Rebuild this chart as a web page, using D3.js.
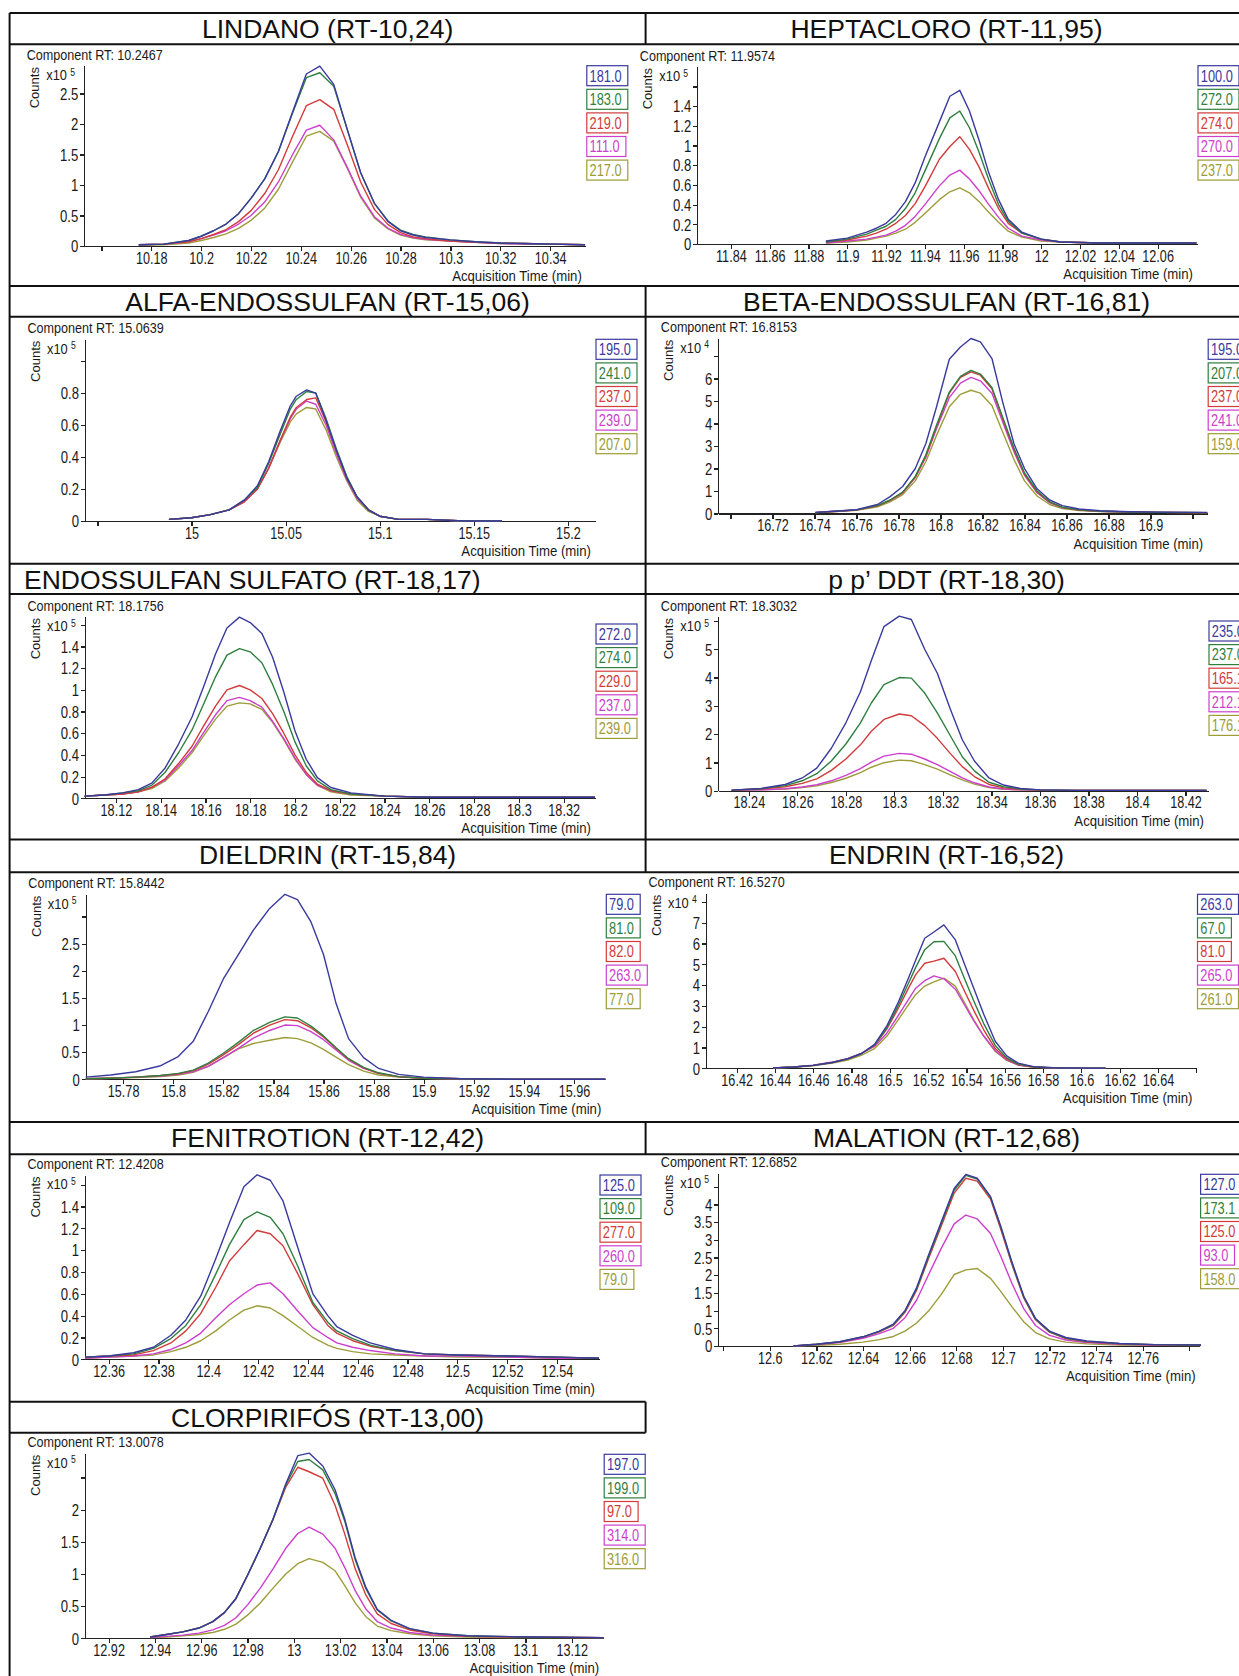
<!DOCTYPE html>
<html lang="pt">
<head>
<meta charset="utf-8">
<title>Cromatogramas</title>
<script src="https://cdn.jsdelivr.net/npm/d3@7"></script>
<style>
body { margin: 0; background: #fff; }
svg { display: block; font-family: "Liberation Sans", Arial, sans-serif; }
.rule { stroke: #111; stroke-width: 2; }
.axis path, .axis line { stroke: #222; stroke-width: 1.2; shape-rendering: crispEdges; }
.axis text { fill: #1a1a1a; }
.title { font-size: 26.5px; fill: #111; }
.trace { fill: none; stroke-width: 1.4; stroke-linejoin: round; }
</style>
</head>
<body>
<script>
// ---- chart data ----
var titles = ["LINDANO (RT-10,24)", "HEPTACLORO (RT-11,95)", "ALFA-ENDOSSULFAN (RT-15,06)",
  "BETA-ENDOSSULFAN (RT-16,81)", "ENDOSSULFAN SULFATO (RT-18,17)", "p p\u2019 DDT (RT-18,30)",
  "DIELDRIN (RT-15,84)", "ENDRIN (RT-16,52)", "FENITROTION (RT-12,42)", "MALATION (RT-12,68)",
  "CLORPIRIF\u00d3S (RT-13,00)"];
var componentRT = ["10.2467", "11.9574", "15.0639", "16.8153", "18.1756", "18.3032",
  "15.8442", "16.5270", "12.4208", "12.6852", "13.0078"];
var exponents = [5, 5, 5, 4, 5, 5, 5, 4, 5, 5, 5];
var ionLabels = [
  ["181.0", "183.0", "219.0", "111.0", "217.0"],
  ["100.0", "272.0", "274.0", "270.0", "237.0"],
  ["195.0", "241.0", "237.0", "239.0", "207.0"],
  ["195.0", "207.0", "237.0", "241.0", "159.0"],
  ["272.0", "274.0", "229.0", "237.0", "239.0"],
  ["235.0", "237.0", "165.1", "212.1", "176.1"],
  ["79.0", "81.0", "82.0", "263.0", "77.0"],
  ["263.0", "67.0", "81.0", "265.0", "261.0"],
  ["125.0", "109.0", "277.0", "260.0", "79.0"],
  ["127.0", "173.1", "125.0", "93.0", "158.0"],
  ["197.0", "199.0", "97.0", "314.0", "316.0"]
];
var xDomains = [[10.1531, 10.3543], [11.8227, 12.0803], [14.9434, 15.2144], [16.6942, 16.927],
  [18.1062, 18.334], [18.2274, 18.4293], [15.7651, 15.9725], [16.404, 16.6601],
  [12.3505, 12.5569], [12.5779, 12.7844], [12.9098, 13.1336]];
var yMax = [2.956, 1.80, 1.136, 7.79, 1.674, 6.15, 3.41, 8.41, 1.688, 4.88, 2.877];
var xTicks = [
  [10.16, 10.18, 10.2, 10.22, 10.24, 10.26, 10.28, 10.3, 10.32, 10.34],
  [11.84, 11.86, 11.88, 11.9, 11.92, 11.94, 11.96, 11.98, 12, 12.02, 12.04, 12.06],
  [14.95, 15, 15.05, 15.1, 15.15, 15.2],
  [16.7, 16.72, 16.74, 16.76, 16.78, 16.8, 16.82, 16.84, 16.86, 16.88, 16.9, 16.92],
  [18.12, 18.14, 18.16, 18.18, 18.2, 18.22, 18.24, 18.26, 18.28, 18.3, 18.32],
  [18.24, 18.26, 18.28, 18.3, 18.32, 18.34, 18.36, 18.38, 18.4, 18.42],
  [15.78, 15.8, 15.82, 15.84, 15.86, 15.88, 15.9, 15.92, 15.94, 15.96],
  [16.42, 16.44, 16.46, 16.48, 16.5, 16.52, 16.54, 16.56, 16.58, 16.6, 16.62, 16.64, 16.66],
  [12.36, 12.38, 12.4, 12.42, 12.44, 12.46, 12.48, 12.5, 12.52, 12.54],
  [12.58, 12.6, 12.62, 12.64, 12.66, 12.68, 12.7, 12.72, 12.74, 12.76, 12.78],
  [12.92, 12.94, 12.96, 12.98, 13, 13.02, 13.04, 13.06, 13.08, 13.1, 13.12]
];
var xUnlabeled = [[10.16], [], [14.95], [16.7, 16.92], [], [], [], [16.66], [], [12.58, 12.78], []];
var yTicks = [
  [0, 0.5, 1, 1.5, 2, 2.5],
  [0, 0.2, 0.4, 0.6, 0.8, 1, 1.2, 1.4, 1.6],
  [0, 0.2, 0.4, 0.6, 0.8, 1],
  [0, 1, 2, 3, 4, 5, 6, 7],
  [0, 0.2, 0.4, 0.6, 0.8, 1, 1.2, 1.4, 1.6],
  [0, 1, 2, 3, 4, 5, 6],
  [0, 0.5, 1, 1.5, 2, 2.5, 3],
  [0, 1, 2, 3, 4, 5, 6, 7, 8],
  [0, 0.2, 0.4, 0.6, 0.8, 1, 1.2, 1.4, 1.6],
  [0, 0.5, 1, 1.5, 2, 2.5, 3, 3.5, 4, 4.5],
  [0, 0.5, 1, 1.5, 2, 2.5]
];
var yUnlabeled = [[], [1.6], [1], [7], [1.6], [6], [3], [8], [1.6], [4.5], [2.5]];

// acquisition time (min) and counts (x10^n) per ion, in legend order
var lindanoTime = [10.175, 10.185, 10.195, 10.2, 10.205, 10.21, 10.215, 10.22, 10.2255, 10.231, 10.2367, 10.2422, 10.2476, 10.2532, 10.2587, 10.264, 10.2695, 10.275, 10.28, 10.285, 10.29, 10.3, 10.31, 10.32, 10.33, 10.34, 10.354];
var lindanoCounts = [
  [0.02, 0.03, 0.09, 0.16, 0.25, 0.36, 0.53, 0.78, 1.10, 1.55, 2.20, 2.82, 2.95, 2.65, 1.90, 1.20, 0.70, 0.40, 0.25, 0.18, 0.14, 0.10, 0.07, 0.05, 0.04, 0.03, 0.02],
  [0.02, 0.03, 0.09, 0.16, 0.25, 0.36, 0.53, 0.78, 1.10, 1.55, 2.18, 2.76, 2.84, 2.62, 1.90, 1.20, 0.70, 0.41, 0.26, 0.19, 0.15, 0.10, 0.07, 0.05, 0.04, 0.03, 0.02],
  [0.02, 0.03, 0.07, 0.12, 0.19, 0.27, 0.40, 0.58, 0.86, 1.25, 1.80, 2.30, 2.40, 2.24, 1.65, 1.05, 0.60, 0.35, 0.22, 0.15, 0.12, 0.08, 0.06, 0.05, 0.04, 0.03, 0.02],
  [0.02, 0.03, 0.07, 0.12, 0.18, 0.25, 0.36, 0.50, 0.72, 1.05, 1.50, 1.90, 1.98, 1.74, 1.28, 0.82, 0.48, 0.29, 0.19, 0.14, 0.11, 0.08, 0.06, 0.04, 0.03, 0.03, 0.02],
  [0.01, 0.02, 0.05, 0.09, 0.14, 0.20, 0.29, 0.42, 0.62, 0.93, 1.38, 1.80, 1.88, 1.72, 1.27, 0.80, 0.46, 0.28, 0.18, 0.13, 0.10, 0.08, 0.06, 0.04, 0.03, 0.03, 0.02]
];
var heptacloroTime = [11.889, 11.9, 11.91, 11.915, 11.92, 11.925, 11.93, 11.935, 11.94, 11.9475, 11.9529, 11.958, 11.963, 11.968, 11.973, 11.978, 11.983, 11.99, 12.0, 12.01, 12.03, 12.05, 12.08];
var heptacloroCounts = [
  [0.03, 0.06, 0.12, 0.16, 0.21, 0.30, 0.43, 0.62, 0.88, 1.24, 1.50, 1.56, 1.35, 1.05, 0.72, 0.45, 0.25, 0.12, 0.05, 0.02, 0.01, 0.01, 0.01],
  [0.02, 0.05, 0.10, 0.14, 0.18, 0.25, 0.36, 0.52, 0.74, 1.07, 1.28, 1.35, 1.18, 0.93, 0.65, 0.40, 0.23, 0.11, 0.05, 0.02, 0.01, 0.01, 0.01],
  [0.02, 0.04, 0.08, 0.11, 0.15, 0.21, 0.29, 0.41, 0.58, 0.86, 0.99, 1.09, 0.96, 0.78, 0.56, 0.36, 0.21, 0.11, 0.05, 0.02, 0.01, 0.01, 0.01],
  [0.01, 0.03, 0.05, 0.07, 0.09, 0.13, 0.19, 0.28, 0.40, 0.59, 0.70, 0.75, 0.66, 0.54, 0.40, 0.27, 0.16, 0.08, 0.04, 0.02, 0.01, 0.01, 0.01],
  [0.01, 0.02, 0.04, 0.06, 0.08, 0.11, 0.15, 0.22, 0.31, 0.45, 0.53, 0.57, 0.52, 0.43, 0.32, 0.22, 0.13, 0.07, 0.03, 0.02, 0.01, 0.01, 0.01]
];
var alfaTime = [14.988, 15.0, 15.01, 15.02, 15.028, 15.035, 15.041, 15.047, 15.0525, 15.0557, 15.0612, 15.066, 15.0715, 15.077, 15.0825, 15.088, 15.094, 15.1, 15.11, 15.125, 15.145, 15.165];
var alfaCounts = [
  [0.01, 0.02, 0.04, 0.07, 0.13, 0.22, 0.37, 0.56, 0.72, 0.78, 0.82, 0.80, 0.63, 0.44, 0.27, 0.15, 0.07, 0.03, 0.01, 0.01, 0.0, 0.0],
  [0.01, 0.02, 0.04, 0.07, 0.13, 0.21, 0.36, 0.54, 0.70, 0.76, 0.81, 0.80, 0.64, 0.45, 0.28, 0.15, 0.07, 0.03, 0.01, 0.01, 0.0, 0.0],
  [0.01, 0.02, 0.04, 0.07, 0.12, 0.20, 0.33, 0.50, 0.65, 0.71, 0.76, 0.77, 0.62, 0.44, 0.27, 0.15, 0.07, 0.03, 0.01, 0.01, 0.0, 0.0],
  [0.01, 0.02, 0.04, 0.07, 0.12, 0.20, 0.33, 0.50, 0.64, 0.70, 0.75, 0.73, 0.60, 0.42, 0.26, 0.14, 0.07, 0.03, 0.01, 0.01, 0.0, 0.0],
  [0.01, 0.02, 0.04, 0.07, 0.12, 0.20, 0.33, 0.49, 0.62, 0.67, 0.71, 0.70, 0.57, 0.40, 0.25, 0.13, 0.06, 0.03, 0.01, 0.01, 0.0, 0.0]
];
var betaTime = [16.7404, 16.75, 16.76, 16.77, 16.776, 16.782, 16.788, 16.793, 16.798, 16.8042, 16.8095, 16.8145, 16.819, 16.8245, 16.8295, 16.835, 16.84, 16.846, 16.852, 16.858, 16.866, 16.876, 16.89, 16.905, 16.927];
var betaCounts = [
  [0.05, 0.10, 0.17, 0.40, 0.75, 1.20, 2.00, 3.10, 4.70, 6.86, 7.40, 7.78, 7.63, 6.89, 5.00, 3.10, 2.00, 1.10, 0.60, 0.35, 0.20, 0.12, 0.08, 0.06, 0.05],
  [0.04, 0.10, 0.16, 0.35, 0.60, 0.95, 1.65, 2.60, 3.90, 5.40, 6.10, 6.36, 6.20, 5.60, 4.30, 2.90, 1.80, 1.00, 0.52, 0.28, 0.16, 0.10, 0.07, 0.05, 0.04],
  [0.04, 0.09, 0.15, 0.34, 0.58, 0.93, 1.62, 2.55, 3.85, 5.35, 6.05, 6.30, 6.15, 5.55, 4.25, 2.85, 1.75, 0.95, 0.50, 0.27, 0.15, 0.10, 0.07, 0.05, 0.04],
  [0.05, 0.11, 0.16, 0.35, 0.58, 0.92, 1.60, 2.50, 3.75, 5.15, 5.80, 6.05, 5.90, 5.35, 4.10, 2.75, 1.70, 0.92, 0.48, 0.26, 0.15, 0.10, 0.07, 0.05, 0.04],
  [0.04, 0.09, 0.14, 0.30, 0.52, 0.84, 1.45, 2.30, 3.45, 4.75, 5.30, 5.48, 5.35, 4.80, 3.65, 2.40, 1.45, 0.78, 0.40, 0.22, 0.13, 0.09, 0.06, 0.05, 0.04]
];
var sulfatoTime = [18.106, 18.115, 18.123, 18.13, 18.136, 18.142, 18.148, 18.154, 18.159, 18.1645, 18.1696, 18.1752, 18.18, 18.1852, 18.19, 18.195, 18.2, 18.205, 18.21, 18.216, 18.225, 18.24, 18.26, 18.29, 18.334];
var sulfatoCounts = [
  [0.02, 0.03, 0.05, 0.08, 0.14, 0.28, 0.50, 0.75, 1.02, 1.33, 1.57, 1.67, 1.62, 1.52, 1.30, 0.98, 0.62, 0.36, 0.19, 0.10, 0.05, 0.02, 0.01, 0.01, 0.01],
  [0.02, 0.03, 0.05, 0.07, 0.12, 0.24, 0.42, 0.63, 0.86, 1.12, 1.32, 1.38, 1.35, 1.25, 1.05, 0.80, 0.52, 0.30, 0.16, 0.08, 0.04, 0.02, 0.01, 0.01, 0.01],
  [0.02, 0.03, 0.04, 0.06, 0.10, 0.18, 0.32, 0.48, 0.66, 0.85, 1.00, 1.04, 1.00, 0.92, 0.78, 0.60, 0.40, 0.24, 0.13, 0.07, 0.04, 0.02, 0.01, 0.01, 0.01],
  [0.02, 0.03, 0.04, 0.06, 0.10, 0.17, 0.30, 0.44, 0.60, 0.77, 0.90, 0.93, 0.90, 0.84, 0.71, 0.55, 0.37, 0.22, 0.12, 0.07, 0.04, 0.02, 0.01, 0.01, 0.01],
  [0.02, 0.03, 0.04, 0.06, 0.09, 0.16, 0.28, 0.42, 0.57, 0.73, 0.85, 0.88, 0.87, 0.82, 0.70, 0.54, 0.36, 0.22, 0.12, 0.06, 0.03, 0.02, 0.01, 0.01, 0.01]
];
var ddtTime = [18.2329, 18.245, 18.255, 18.262, 18.268, 18.274, 18.28, 18.286, 18.2905, 18.2957, 18.302, 18.307, 18.3125, 18.3177, 18.323, 18.328, 18.333, 18.339, 18.345, 18.352, 18.36, 18.375, 18.4, 18.4287];
var ddtCounts = [
  [0.02, 0.08, 0.22, 0.45, 0.80, 1.50, 2.40, 3.50, 4.60, 5.80, 6.17, 6.05, 5.00, 4.15, 2.90, 1.80, 1.05, 0.45, 0.20, 0.08, 0.03, 0.01, 0.01, 0.01],
  [0.02, 0.07, 0.18, 0.35, 0.60, 1.05, 1.65, 2.40, 3.10, 3.75, 4.00, 3.98, 3.45, 2.75, 1.95, 1.20, 0.70, 0.30, 0.14, 0.06, 0.03, 0.01, 0.01, 0.01],
  [0.02, 0.06, 0.14, 0.26, 0.42, 0.72, 1.12, 1.62, 2.10, 2.52, 2.71, 2.65, 2.30, 1.85, 1.32, 0.85, 0.50, 0.22, 0.10, 0.05, 0.02, 0.01, 0.01, 0.01],
  [0.01, 0.03, 0.07, 0.13, 0.21, 0.35, 0.54, 0.78, 1.01, 1.22, 1.32, 1.29, 1.12, 0.92, 0.68, 0.45, 0.28, 0.13, 0.06, 0.03, 0.02, 0.01, 0.01, 0.01],
  [0.01, 0.03, 0.06, 0.11, 0.17, 0.29, 0.44, 0.64, 0.83, 0.99, 1.08, 1.06, 0.92, 0.76, 0.56, 0.38, 0.23, 0.11, 0.05, 0.03, 0.02, 0.01, 0.01, 0.01]
];
var dieldrinTime = [15.7651, 15.775, 15.785, 15.795, 15.802, 15.808, 15.814, 15.82, 15.826, 15.832, 15.8385, 15.8446, 15.8496, 15.855, 15.86, 15.865, 15.87, 15.876, 15.882, 15.89, 15.9, 15.915, 15.935, 15.9725];
var dieldrinCounts = [
  [0.04, 0.08, 0.14, 0.25, 0.42, 0.70, 1.25, 1.85, 2.30, 2.75, 3.15, 3.41, 3.31, 2.90, 2.30, 1.40, 0.75, 0.40, 0.20, 0.09, 0.04, 0.01, 0.0, 0.0],
  [0.01, 0.02, 0.04, 0.07, 0.11, 0.17, 0.30, 0.48, 0.68, 0.90, 1.05, 1.15, 1.13, 0.98, 0.80, 0.58, 0.38, 0.22, 0.12, 0.05, 0.02, 0.01, 0.0, 0.0],
  [0.01, 0.02, 0.04, 0.07, 0.10, 0.16, 0.28, 0.45, 0.64, 0.85, 1.00, 1.10, 1.08, 0.95, 0.78, 0.57, 0.37, 0.21, 0.11, 0.05, 0.02, 0.01, 0.0, 0.0],
  [0.01, 0.02, 0.04, 0.06, 0.09, 0.14, 0.24, 0.40, 0.57, 0.76, 0.90, 1.00, 0.99, 0.88, 0.73, 0.54, 0.35, 0.20, 0.11, 0.05, 0.02, 0.01, 0.0, 0.0],
  [0.01, 0.02, 0.03, 0.05, 0.08, 0.13, 0.24, 0.40, 0.56, 0.66, 0.72, 0.77, 0.75, 0.67, 0.55, 0.41, 0.27, 0.15, 0.08, 0.04, 0.02, 0.01, 0.0, 0.0]
];
var endrinTime = [16.439, 16.45, 16.46, 16.47, 16.478, 16.485, 16.492, 16.4985, 16.5045, 16.51, 16.5135, 16.5182, 16.523, 16.5282, 16.5342, 16.539, 16.544, 16.549, 16.555, 16.561, 16.567, 16.575, 16.585, 16.6, 16.6126];
var endrinCounts = [
  [0.02, 0.06, 0.14, 0.28, 0.45, 0.70, 1.15, 2.05, 3.20, 4.40, 5.20, 6.25, 6.55, 6.89, 6.17, 5.00, 3.80, 2.60, 1.30, 0.60, 0.25, 0.08, 0.03, 0.01, 0.01],
  [0.02, 0.06, 0.14, 0.28, 0.45, 0.70, 1.12, 1.95, 3.05, 4.15, 4.85, 5.70, 6.08, 6.10, 5.40, 4.30, 3.20, 2.15, 1.10, 0.50, 0.20, 0.07, 0.03, 0.01, 0.01],
  [0.02, 0.06, 0.14, 0.28, 0.45, 0.70, 1.10, 1.90, 2.90, 3.90, 4.50, 5.05, 5.15, 5.29, 4.65, 3.70, 2.75, 1.85, 0.95, 0.45, 0.18, 0.06, 0.02, 0.01, 0.01],
  [0.02, 0.06, 0.15, 0.30, 0.48, 0.72, 1.05, 1.70, 2.55, 3.35, 3.85, 4.21, 4.44, 4.30, 3.80, 3.05, 2.25, 1.55, 0.85, 0.40, 0.16, 0.06, 0.02, 0.01, 0.01],
  [0.02, 0.05, 0.12, 0.25, 0.40, 0.62, 0.95, 1.55, 2.35, 3.10, 3.55, 3.95, 4.15, 4.33, 3.95, 3.15, 2.30, 1.55, 0.82, 0.38, 0.15, 0.05, 0.02, 0.01, 0.01]
];
var fenitrotionTime = [12.3505, 12.36, 12.37, 12.378, 12.385, 12.391, 12.397, 12.403, 12.4085, 12.4143, 12.4196, 12.4249, 12.43, 12.436, 12.442, 12.448, 12.4516, 12.458, 12.465, 12.475, 12.487, 12.5, 12.52, 12.54, 12.5569];
var fenitrotionCounts = [
  [0.02, 0.03, 0.06, 0.11, 0.22, 0.36, 0.58, 0.92, 1.25, 1.58, 1.69, 1.64, 1.45, 1.02, 0.60, 0.40, 0.30, 0.22, 0.15, 0.09, 0.05, 0.04, 0.03, 0.02, 0.01],
  [0.02, 0.03, 0.05, 0.10, 0.19, 0.31, 0.50, 0.78, 1.05, 1.28, 1.35, 1.30, 1.15, 0.85, 0.52, 0.34, 0.26, 0.19, 0.13, 0.08, 0.05, 0.04, 0.03, 0.02, 0.01],
  [0.02, 0.03, 0.04, 0.08, 0.15, 0.26, 0.42, 0.66, 0.90, 1.05, 1.18, 1.15, 1.04, 0.78, 0.50, 0.31, 0.24, 0.17, 0.12, 0.08, 0.05, 0.04, 0.03, 0.02, 0.01],
  [0.01, 0.02, 0.03, 0.05, 0.09, 0.15, 0.24, 0.38, 0.50, 0.60, 0.68, 0.70, 0.60, 0.44, 0.29, 0.20, 0.15, 0.11, 0.08, 0.05, 0.03, 0.03, 0.02, 0.01, 0.01],
  [0.01, 0.02, 0.03, 0.04, 0.07, 0.11, 0.17, 0.26, 0.36, 0.45, 0.49, 0.47, 0.40, 0.30, 0.20, 0.13, 0.10, 0.07, 0.05, 0.04, 0.03, 0.02, 0.02, 0.01, 0.01]
];
var malationTime = [12.6102, 12.62, 12.63, 12.64, 12.647, 12.653, 12.658, 12.663, 12.668, 12.6735, 12.6791, 12.6841, 12.689, 12.6947, 12.699, 12.704, 12.709, 12.714, 12.72, 12.727, 12.736, 12.75, 12.765, 12.785];
var malationCounts = [
  [0.0, 0.05, 0.12, 0.26, 0.42, 0.62, 1.00, 1.65, 2.55, 3.50, 4.45, 4.85, 4.74, 4.22, 3.40, 2.35, 1.40, 0.78, 0.42, 0.24, 0.14, 0.07, 0.04, 0.03],
  [0.0, 0.05, 0.12, 0.26, 0.41, 0.60, 0.98, 1.62, 2.50, 3.45, 4.40, 4.82, 4.72, 4.20, 3.38, 2.32, 1.38, 0.76, 0.40, 0.22, 0.13, 0.07, 0.04, 0.03],
  [0.0, 0.05, 0.11, 0.25, 0.40, 0.58, 0.95, 1.58, 2.45, 3.38, 4.32, 4.74, 4.66, 4.15, 3.32, 2.28, 1.35, 0.74, 0.39, 0.21, 0.12, 0.06, 0.04, 0.03],
  [0.0, 0.04, 0.10, 0.22, 0.35, 0.50, 0.80, 1.30, 2.00, 2.75, 3.45, 3.70, 3.59, 3.18, 2.55, 1.75, 1.05, 0.58, 0.30, 0.17, 0.10, 0.05, 0.03, 0.02],
  [0.0, 0.02, 0.05, 0.11, 0.18, 0.27, 0.42, 0.65, 0.98, 1.45, 2.02, 2.15, 2.19, 1.91, 1.55, 1.10, 0.68, 0.38, 0.20, 0.11, 0.06, 0.03, 0.02, 0.01]
];
var clorpirifosTime = [12.9379, 12.945, 12.952, 12.959, 12.965, 12.97, 12.975, 12.98, 12.9855, 12.991, 12.9965, 13.0017, 13.0066, 13.0125, 13.0178, 13.022, 13.0265, 13.031, 13.036, 13.042, 13.05, 13.06, 13.075, 13.1, 13.1338];
var clorpirifosCounts = [
  [0.02, 0.06, 0.10, 0.16, 0.26, 0.40, 0.62, 0.98, 1.40, 1.85, 2.40, 2.84, 2.88, 2.68, 2.31, 1.85, 1.25, 0.80, 0.45, 0.28, 0.15, 0.08, 0.04, 0.02, 0.01],
  [0.02, 0.06, 0.10, 0.16, 0.26, 0.40, 0.62, 0.98, 1.40, 1.85, 2.38, 2.75, 2.78, 2.62, 2.25, 1.82, 1.22, 0.78, 0.44, 0.27, 0.15, 0.08, 0.04, 0.02, 0.01],
  [0.02, 0.06, 0.10, 0.16, 0.26, 0.40, 0.62, 0.98, 1.40, 1.85, 2.35, 2.66, 2.59, 2.49, 2.07, 1.62, 1.08, 0.68, 0.38, 0.23, 0.13, 0.07, 0.03, 0.02, 0.01],
  [0.01, 0.03, 0.05, 0.08, 0.13, 0.20, 0.32, 0.52, 0.78, 1.08, 1.40, 1.63, 1.73, 1.62, 1.40, 1.10, 0.74, 0.46, 0.26, 0.16, 0.09, 0.05, 0.03, 0.02, 0.01],
  [0.01, 0.02, 0.04, 0.06, 0.09, 0.14, 0.22, 0.36, 0.55, 0.78, 1.00, 1.16, 1.24, 1.18, 1.05, 0.82, 0.55, 0.34, 0.19, 0.12, 0.07, 0.04, 0.02, 0.01, 0.01]
];

var panelTimes = [lindanoTime, heptacloroTime, alfaTime, betaTime, sulfatoTime, ddtTime,
  dieldrinTime, endrinTime, fenitrotionTime, malationTime, clorpirifosTime];
var panelCounts = [lindanoCounts, heptacloroCounts, alfaCounts, betaCounts, sulfatoCounts, ddtCounts,
  dieldrinCounts, endrinCounts, fenitrotionCounts, malationCounts, clorpirifosCounts];

// ---- layout (page pixels) ----
var W = 1239, H = 1676;
var seriesColors = ["#3a3a9e", "#2f7f3f", "#d23b3b", "#cc3fcc", "#9c9c3a"];
// plot box of each chromatogram: y-axis x, top, right end of x-axis, zero line, legend top
var plots = [
  {ax: 84.2, top: 65.7, right: 585.8, bottom: 246, legTop: 65.7},
  {ax: 697.3, top: 66.7, right: 1197, bottom: 244, legTop: 65.7},
  {ax: 85, top: 339.3, right: 595, bottom: 521, legTop: 339.3},
  {ax: 718.3, top: 338.3, right: 1207.2, bottom: 513.5, legTop: 339.3},
  {ax: 85, top: 616.7, right: 595, bottom: 798.3, legTop: 624},
  {ax: 718.3, top: 616.7, right: 1208, bottom: 790.7, legTop: 621},
  {ax: 85.8, top: 894.3, right: 605.3, bottom: 1079.3, legTop: 894.3},
  {ax: 706, top: 893.3, right: 1196.5, bottom: 1068.3, legTop: 894.3},
  {ax: 85, top: 1175, right: 599, bottom: 1359.3, legTop: 1175},
  {ax: 718.3, top: 1173.3, right: 1199.6, bottom: 1346, legTop: 1174.3},
  {ax: 85, top: 1453.3, right: 603.2, bottom: 1638.3, legTop: 1454.3}
];
var tableLeft = 9.6, colSplit = 645.6, tableRight = 1250;
var rowTops = [13, 286, 563.7, 839.5, 1122, 1401.7];
var titleBottoms = [44.3, 316.7, 594, 872.3, 1154.3, 1432.7];
var colCenters = [327.6, 946.5];

var svg = d3.select("body").append("svg")
  .attr("width", W)
  .attr("height", H);

svg.append("rect").attr("width", W).attr("height", H).attr("fill", "#fff");

// table rules
function rule(x1, y1, x2, y2) {
  svg.append("line").attr("class", "rule")
    .attr("x1", x1).attr("y1", y1).attr("x2", x2).attr("y2", y2);
}
rowTops.forEach(function (y, r) {
  var xr = r < 5 ? tableRight : colSplit;
  if (r < 5) rule(tableLeft, y, xr, y);
  rule(tableLeft, titleBottoms[r], xr, titleBottoms[r]);
  rule(colSplit, y, colSplit, titleBottoms[r]);
});
rule(tableLeft, rowTops[5], colSplit, rowTops[5]);
rule(tableLeft, 13, tableLeft, H);
// divider is visible through rows 1 and 2 only
rule(colSplit, titleBottoms[1], colSplit, rowTops[2]);
rule(colSplit, titleBottoms[2], colSplit, rowTops[3]);

// condensed chart text (the screenshots are squeezed horizontally)
function sText(g, x, y, str, o) {
  o = o || {};
  return g.append("text")
    .attr("transform", "translate(" + x + "," + y + ") scale(" + (o.sx || 0.8) + ",1)")
    .attr("text-anchor", o.anchor || "start")
    .style("font-size", (o.size || 16) + "px")
    .attr("fill", o.fill || "#1a1a1a")
    .text(str);
}

var fmt = d3.format("~g");
function isIn(list, v) {
  return list.some(function (u) { return Math.abs(u - v) < 1e-9; });
}

titles.forEach(function (title, i) {
  var row = Math.floor(i / 2), col = i % 2;
  var P = plots[i];
  var g = svg.append("g");

  // title row
  var t = g.append("text").attr("class", "title")
    .attr("y", rowTops[row] + 24.8)
    .text(title);
  if (i === 4) {
    t.attr("x", 24).attr("text-anchor", "start");
  } else {
    t.attr("x", colCenters[col]).attr("text-anchor", "middle");
  }

  var x = d3.scaleLinear().domain(xDomains[i]).range([P.ax, P.right]);
  var y = d3.scaleLinear().domain([0, yMax[i]]).range([P.bottom, P.top]);

  sText(g, P.ax - 57.5, P.top - 6, "Component RT: " + componentRT[i], {size: 14, sx: 0.9});

  g.append("text")
    .attr("transform", "translate(" + (P.ax - 45) + "," + (P.top + 22) + ") rotate(-90)")
    .attr("text-anchor", "middle")
    .style("font-size", "13px")
    .attr("fill", "#1a1a1a")
    .text("Counts");

  sText(g, P.ax - 38, P.top + 14.3, "x10", {size: 15, sx: 0.86});
  sText(g, P.ax - 14, P.top + 10, String(exponents[i]), {size: 10, sx: 0.86});

  // axes
  var xa = g.append("g").attr("class", "axis")
    .attr("transform", "translate(0," + P.bottom + ")")
    .call(d3.axisBottom(x).tickValues(xTicks[i]).tickSize(5).tickSizeOuter(0)
      .tickFormat(function (d) { return isIn(xUnlabeled[i], d) ? "" : fmt(d); }));
  xa.attr("font-size", null).attr("font-family", null);
  xa.selectAll("text")
    .attr("y", 0).attr("dy", 0)
    .attr("transform", "translate(0,17.5) scale(0.79,1)")
    .style("font-size", "16px");

  var ya = g.append("g").attr("class", "axis")
    .attr("transform", "translate(" + P.ax + ",0)")
    .call(d3.axisLeft(y).tickValues(yTicks[i]).tickSize(4).tickSizeOuter(0)
      .tickFormat(function (d) { return isIn(yUnlabeled[i], d) ? "" : fmt(d); }));
  ya.attr("font-size", null).attr("font-family", null);
  ya.selectAll("text")
    .attr("x", 0).attr("dy", "0.36em")
    .attr("transform", "translate(-6,0) scale(0.82,1)")
    .style("font-size", "16px");

  sText(g, P.right - 4, P.bottom + 35, "Acquisition Time (min)", {anchor: "end", size: 15, sx: 0.88});

  // traces, drawn so the first ion ends on top
  var times = panelTimes[i];
  var line = d3.line()
    .x(function (d, k) { return x(times[k]); })
    .y(function (d) { return y(d); });
  panelCounts[i].slice().reverse().forEach(function (vals, r) {
    var s = 4 - r;
    g.append("path").attr("class", "trace")
      .datum(vals.slice(0, times.length))
      .attr("stroke", seriesColors[s])
      .attr("d", line);
  });

  // ion legend boxes
  ionLabels[i].forEach(function (ion, k) {
    var yy = P.legTop + k * 23.6;
    var box = g.append("rect")
      .attr("x", P.right + 1).attr("y", yy)
      .attr("height", 20)
      .attr("fill", "#fff")
      .attr("stroke", seriesColors[k])
      .attr("stroke-width", 1.2);
    var lt = sText(g, P.right + 3.8, yy + 15.8, ion, {fill: seriesColors[k]});
    box.attr("width", lt.node().getComputedTextLength() * 0.8 + 9);
  });
});
</script>
</body>
</html>
